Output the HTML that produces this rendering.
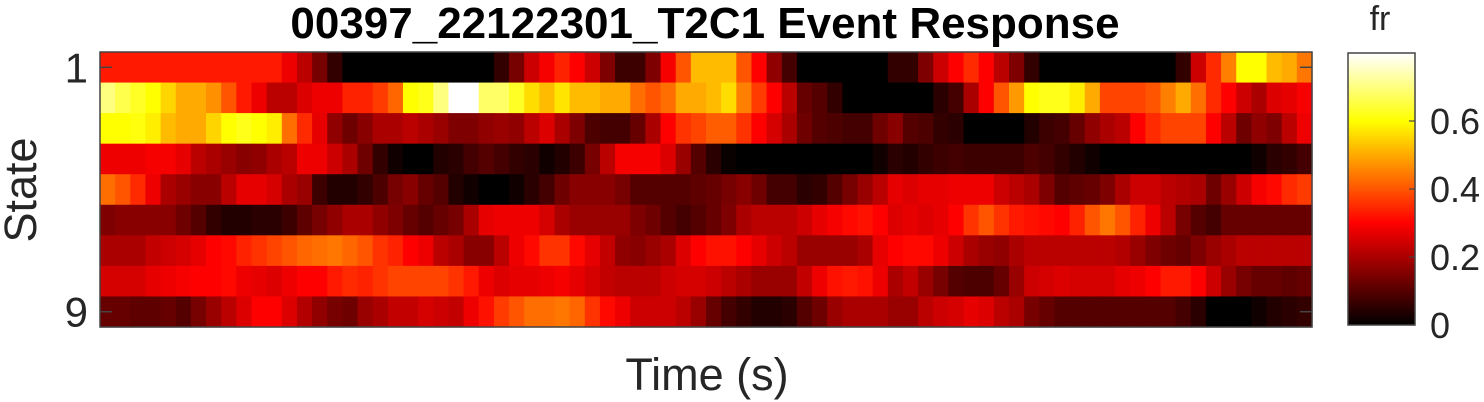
<!DOCTYPE html>
<html><head><meta charset="utf-8"><style>
html,body{margin:0;padding:0;background:#fff;}
svg{display:block;font-family:"Liberation Sans",Arial,sans-serif;}
</style></head><body>
<svg id="chart" width="1484" height="402" xmlns="http://www.w3.org/2000/svg">
<text x="705" y="38" text-anchor="middle" font-size="44" font-weight="bold" fill="#000">00397_22122301_T2C1 Event Response</text>
<g id="cells"></g>
<rect x="100" y="52" width="1212" height="275" fill="none" stroke="#444" stroke-width="1.5"/>
<g id="yticks"></g>
<text transform="translate(36,190) rotate(-90)" text-anchor="middle" font-size="45" fill="#262626">State</text>
<text x="707" y="390" text-anchor="middle" font-size="45" fill="#262626">Time (s)</text>
<defs><linearGradient id="hotgrad" x1="0" y1="1" x2="0" y2="0">
<stop offset="0" stop-color="#000"/><stop offset="0.375" stop-color="#f00"/><stop offset="0.75" stop-color="#ff0"/><stop offset="1" stop-color="#fff"/>
</linearGradient></defs>
<rect x="1348" y="53" width="67" height="272" fill="url(#hotgrad)" stroke="#444" stroke-width="1.5"/>
<text x="1380" y="30" text-anchor="middle" font-size="34" fill="#262626">fr</text>
<g id="cticks"></g>
</svg>
<script>
const states = [1,2,3,4,5,6,7,8,9];
const yTickLabels = ["1","9"];
const cbTicks = [0,0.2,0.4,0.6];
const cbMax = 0.8;
const row1 = [0.33,0.33,0.33,0.33,0.33,0.33,0.33,0.33,0.33,0.33,0.33,0.33,0.28,0.22,0.14,0.06,0,0,0,0,0,0,0,0,0,0,0.06,0.14,0.24,0.29,0.34,0.3,0.24,0.15,0.07,0.07,0.15,0.29,0.4,0.52,0.52,0.52,0.4,0.3,0.17,0.08,0,0,0,0,0,0,0.06,0.06,0.15,0.24,0.3,0.35,0.3,0.22,0.15,0.06,0,0,0,0,0,0,0,0,0,0.06,0.24,0.35,0.45,0.6,0.6,0.52,0.5,0.44];
const row2 = [0.7,0.66,0.63,0.6,0.55,0.5,0.5,0.47,0.4,0.33,0.28,0.22,0.22,0.26,0.28,0.28,0.34,0.34,0.37,0.42,0.6,0.62,0.7,0.8,0.8,0.68,0.68,0.63,0.56,0.52,0.57,0.52,0.52,0.5,0.5,0.43,0.4,0.43,0.5,0.5,0.52,0.56,0.45,0.37,0.3,0.22,0.12,0.1,0.06,0,0,0,0,0,0,0.05,0.08,0.2,0.3,0.4,0.48,0.6,0.62,0.62,0.58,0.5,0.38,0.38,0.38,0.4,0.45,0.5,0.43,0.35,0.3,0.24,0.2,0.26,0.27,0.29];
const row3 = [0.6,0.6,0.61,0.58,0.52,0.5,0.5,0.55,0.6,0.62,0.6,0.58,0.43,0.35,0.27,0.17,0.13,0.16,0.2,0.2,0.22,0.2,0.18,0.15,0.15,0.17,0.18,0.17,0.22,0.26,0.2,0.15,0.09,0.08,0.08,0.12,0.2,0.3,0.36,0.38,0.41,0.41,0.36,0.3,0.25,0.2,0.13,0.1,0.09,0.08,0.08,0.13,0.16,0.1,0.09,0.06,0.05,0,0,0,0,0.04,0.07,0.08,0.12,0.17,0.2,0.22,0.3,0.35,0.38,0.38,0.38,0.3,0.22,0.13,0.17,0.15,0.22,0.28];
const row4 = [0.28,0.28,0.28,0.29,0.29,0.27,0.22,0.2,0.18,0.16,0.17,0.2,0.22,0.28,0.28,0.24,0.2,0.13,0.06,0.02,0,0,0.04,0.05,0.08,0.1,0.08,0.06,0.05,0.02,0.04,0.07,0.14,0.22,0.29,0.29,0.29,0.26,0.18,0.1,0.05,0.01,0,0,0,0,0,0,0,0,0,0.02,0.05,0.04,0.06,0.07,0.08,0.07,0.07,0.07,0.07,0.09,0.08,0.06,0.04,0.02,0,0,0,0,0,0,0,0,0,0,0.02,0.05,0.06,0.08];
const row5 = [0.43,0.4,0.35,0.28,0.2,0.18,0.16,0.16,0.22,0.27,0.27,0.25,0.2,0.18,0.07,0.04,0.04,0.06,0.09,0.14,0.16,0.12,0.1,0.04,0.02,0,0,0.02,0.05,0.08,0.13,0.16,0.16,0.16,0.14,0.1,0.1,0.1,0.1,0.11,0.12,0.14,0.16,0.13,0.08,0.08,0.05,0.06,0.1,0.14,0.18,0.22,0.27,0.26,0.27,0.27,0.28,0.28,0.28,0.24,0.22,0.2,0.15,0.1,0.11,0.12,0.15,0.2,0.24,0.24,0.22,0.21,0.2,0.13,0.18,0.24,0.29,0.31,0.35,0.37];
const row6 = [0.15,0.16,0.16,0.16,0.16,0.13,0.1,0.06,0.04,0.04,0.05,0.05,0.07,0.11,0.14,0.17,0.2,0.2,0.17,0.15,0.12,0.1,0.12,0.14,0.2,0.27,0.28,0.28,0.28,0.25,0.2,0.18,0.18,0.18,0.18,0.15,0.13,0.1,0.08,0.1,0.12,0.15,0.2,0.22,0.22,0.22,0.24,0.27,0.29,0.31,0.32,0.3,0.26,0.27,0.26,0.27,0.3,0.36,0.4,0.36,0.33,0.32,0.31,0.3,0.34,0.4,0.44,0.4,0.34,0.28,0.22,0.14,0.1,0.08,0.12,0.12,0.12,0.12,0.12,0.12];
const row7 = [0.2,0.2,0.2,0.23,0.24,0.25,0.27,0.3,0.31,0.34,0.36,0.38,0.4,0.42,0.43,0.44,0.42,0.4,0.36,0.34,0.3,0.28,0.22,0.2,0.16,0.16,0.22,0.28,0.31,0.36,0.36,0.31,0.27,0.23,0.17,0.16,0.18,0.2,0.26,0.3,0.32,0.32,0.3,0.27,0.24,0.22,0.18,0.18,0.18,0.18,0.2,0.27,0.3,0.31,0.31,0.28,0.24,0.2,0.18,0.17,0.2,0.22,0.22,0.22,0.22,0.22,0.22,0.21,0.18,0.15,0.13,0.12,0.15,0.18,0.2,0.22,0.22,0.22,0.22,0.22];
const row8 = [0.25,0.25,0.25,0.27,0.28,0.29,0.3,0.3,0.31,0.28,0.27,0.26,0.28,0.3,0.3,0.33,0.35,0.34,0.36,0.38,0.38,0.38,0.38,0.36,0.33,0.28,0.26,0.27,0.27,0.28,0.29,0.27,0.25,0.23,0.22,0.22,0.22,0.24,0.25,0.25,0.24,0.22,0.2,0.18,0.18,0.18,0.23,0.28,0.32,0.33,0.32,0.28,0.2,0.23,0.18,0.14,0.1,0.09,0.09,0.12,0.18,0.24,0.25,0.26,0.25,0.25,0.25,0.27,0.28,0.3,0.33,0.33,0.3,0.24,0.18,0.14,0.12,0.12,0.11,0.12];
const row9 = [0.12,0.12,0.11,0.11,0.12,0.1,0.14,0.18,0.22,0.26,0.3,0.3,0.26,0.21,0.17,0.14,0.13,0.18,0.2,0.23,0.23,0.25,0.24,0.23,0.28,0.32,0.37,0.4,0.43,0.43,0.44,0.42,0.36,0.31,0.28,0.24,0.24,0.24,0.22,0.18,0.12,0.08,0.06,0.04,0.04,0.05,0.1,0.13,0.18,0.2,0.2,0.2,0.18,0.18,0.22,0.24,0.25,0.27,0.26,0.22,0.2,0.14,0.12,0.1,0.1,0.1,0.1,0.1,0.1,0.1,0.1,0.08,0.05,0,0,0,0.02,0.04,0.05,0.06];
const rows = [row1,row2,row3,row4,row5,row6,row7,row8,row9];

const NS = "http://www.w3.org/2000/svg";
const X0 = 100, X1 = 1312, Y0 = 52, Y1 = 327;
const nCols = row1.length;
const cw = (X1 - X0) / nCols, rh = (Y1 - Y0) / states.length;
function xPos(i){ return X0 + i * cw; }
function yPos(r){ return Y0 + r * rh; }
function hot(v){
  const t = Math.max(0, Math.min(1, v / cbMax));
  const r = Math.min(1, t / 0.375), g = Math.max(0, Math.min(1, (t - 0.375) / 0.375)), b = Math.max(0, (t - 0.75) / 0.25);
  return `rgb(${Math.round(r*255)},${Math.round(g*255)},${Math.round(b*255)})`;
}
const cells = document.getElementById('cells');
rows.forEach((row, r) => {
  row.forEach((v, i) => {
    const el = document.createElementNS(NS, 'rect');
    el.setAttribute('x', xPos(i).toFixed(2));
    el.setAttribute('y', yPos(r).toFixed(2));
    el.setAttribute('width', (cw + 0.6).toFixed(2));
    el.setAttribute('height', (rh + 0.6).toFixed(2));
    el.setAttribute('fill', hot(v));
    
    
    cells.appendChild(el);
  });
});
const yt = document.getElementById('yticks');
[0, states.length - 1].forEach((r, k) => {
  const yc = yPos(r) + rh / 2;
  const t = document.createElementNS(NS, 'text');
  t.setAttribute('x', 88); t.setAttribute('y', yc + 15);
  t.setAttribute('text-anchor', 'end'); t.setAttribute('font-size', '42'); t.setAttribute('fill', '#262626');
  t.textContent = yTickLabels[k];
  
  
  yt.appendChild(t);
  [[X0, X0 + 12], [X1 - 12, X1]].forEach(([a, b]) => {
    const l = document.createElementNS(NS, 'line');
    l.setAttribute('x1', a); l.setAttribute('x2', b); l.setAttribute('y1', yc); l.setAttribute('y2', yc);
    l.setAttribute('stroke', '#444'); l.setAttribute('stroke-width', '1.5');
    
    
    yt.appendChild(l);
  });
});
const ct = document.getElementById('cticks');
const CB0 = 325, CB1 = 53;
function cbY(v){ return CB0 - (v / cbMax) * (CB0 - CB1); }
cbTicks.forEach(v => {
  const y = cbY(v);
  const t = document.createElementNS(NS, 'text');
  t.setAttribute('x', 1430); t.setAttribute('y', y + 13);
  t.setAttribute('font-size', '36'); t.setAttribute('fill', '#262626');
  t.textContent = String(v);
  
  
  ct.appendChild(t);
  const l = document.createElementNS(NS, 'line');
  l.setAttribute('x1', 1409); l.setAttribute('x2', 1415); l.setAttribute('y1', y); l.setAttribute('y2', y);
  l.setAttribute('stroke', '#444'); l.setAttribute('stroke-width', '1.2');
  
  
  ct.appendChild(l);
});
</script>
</body></html>
